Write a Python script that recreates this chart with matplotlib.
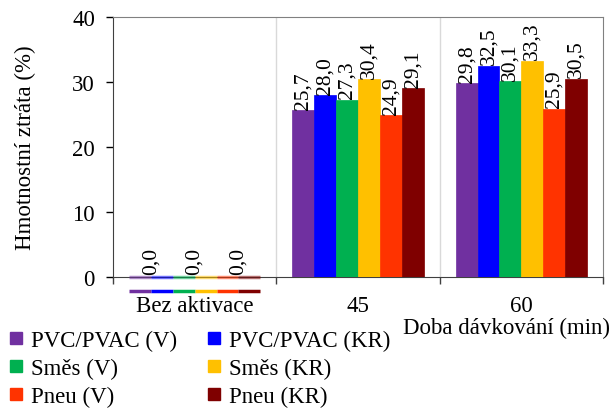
import matplotlib
matplotlib.use("Agg")
import matplotlib.pyplot as plt
import matplotlib.transforms as mtransforms
from matplotlib.lines import Line2D
import numpy as np

categories = ["Bez aktivace", "45", "60"]
series_names = ["PVC/PVAC (V)", "PVC/PVAC (KR)", "Směs (V)", "Směs (KR)", "Pneu (V)", "Pneu (KR)"]
values = [
    [0.0, 25.7, 29.8],
    [0.0, 28.0, 32.5],
    [0.0, 27.3, 30.1],
    [0.0, 30.4, 33.3],
    [0.0, 24.9, 25.9],
    [0.0, 29.1, 30.5],
]
colors = ["#7030A0", "#0000FF", "#00B050", "#FFC000", "#FF3300", "#7F0000"]
y_ticks = [0, 10, 20, 30, 40]

plt.rcParams['font.family'] = ['Liberation Serif', 'DejaVu Serif']
FS = 16.5

fig = plt.figure(figsize=(6.14, 4.10), dpi=100)
ax = fig.add_axes([113/614, 1-278/410, (603-113)/614, (278-18)/410])

x = np.arange(len(categories))
w = 0.134
n = len(series_names)
for i, (name, vals, c) in enumerate(zip(series_names, values, colors)):
    pos = x + (i - (n-1)/2) * w
    for xp, v in zip(pos, vals):
        if v > 0:
            ax.bar(xp, v, width=w, color=c, edgecolor=c, linewidth=0.5, zorder=3)
            ax.text(xp, v + 0.2, f"{v:.1f}".replace(".", ","), rotation=90,
                    ha="center", va="bottom", fontsize=15.5, zorder=4)
        else:
            ax.plot([xp - w/2, xp + w/2], [0, 0], color=c, lw=2.5, alpha=0.55,
                    solid_capstyle="butt", zorder=5, clip_on=False)

# zero labels for the first group (placed between bar pairs)
for k in range(3):
    i0, i1 = 2*k, 2*k+1
    xp = x[0] + ((i0 + i1)/2 - (n-1)/2) * w
    v = values[i0][0]
    ax.text(xp, v + 0.4, f"{v:.1f}".replace(".", ","), rotation=90,
            ha="center", va="bottom", fontsize=15.5, zorder=4)

# coloured strip under the first category
trans = mtransforms.blended_transform_factory(ax.transData, ax.transAxes)
for i, c in enumerate(colors):
    xp = x[0] + (i - (n-1)/2) * w
    ax.plot([xp - w/2, xp + w/2], [-0.054, -0.054], color=c, lw=2.5,
            solid_capstyle="butt", transform=trans, clip_on=False)

ax.set_xlim(-0.5, 2.5)
ax.set_ylim(0, 40)
ax.set_yticks(y_ticks)
ax.set_yticklabels([str(t) for t in y_ticks], fontsize=FS)
ax.tick_params(axis="y", direction="out", length=5, width=1, pad=8)

for b in [0.5, 1.5]:
    ax.axvline(b, color="#D9D9D9", lw=1, zorder=1)

ax.set_xticks([-0.5, 0.5, 1.5, 2.5])
ax.set_xticklabels([])
ax.tick_params(axis="x", direction="out", length=5, width=1, colors="#404040")
for xp, lab in zip(x, categories):
    ax.text(xp, -(307-278)/260, lab, transform=trans, ha="center", va="center", fontsize=FS)

for s in ["top", "right"]:
    ax.spines[s].set_color("#808080")
for s in ["left", "bottom"]:
    ax.spines[s].set_color("#404040")

ax.set_ylabel("Hmotnostní ztráta (%)", fontsize=FS, labelpad=26)
fig.text(610/614, 1-328/410, "Doba dávkování (min)", ha="right", va="center", fontsize=FS)

handles = [Line2D([], [], marker="s", linestyle="none", markersize=9,
                  markerfacecolor=c, markeredgecolor=c) for c in colors]
order = [0, 2, 4, 1, 3, 5]
fig.legend([handles[i] for i in order], [series_names[i] for i in order],
           ncol=2, loc="upper left", bbox_to_anchor=(0.0, 1-326/410),
           frameon=False, fontsize=FS, handletextpad=0.15, handlelength=1.0,
           columnspacing=1.1, labelspacing=0.3, borderaxespad=0.0, borderpad=0.2)

fig.savefig("out.png", dpi=100)
